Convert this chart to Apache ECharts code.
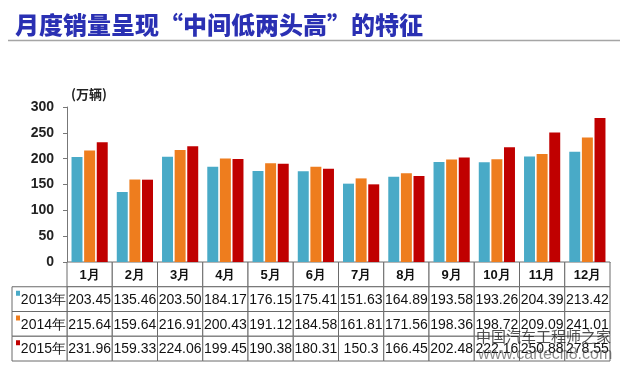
<!DOCTYPE html>
<html>
<head>
<meta charset="utf-8">
<script src="https://cdn.jsdelivr.net/npm/echarts@6/dist/echarts.min.js"></script>
<style>
html,body{margin:0;padding:0;background:#fff;}
#chart{width:620px;height:372px;}
</style>
</head>
<body>
<div id="chart"></div>
<script>
// ---- data ----
var months = ['1月','2月','3月','4月','5月','6月','7月','8月','9月','10月','11月','12月'];
var seriesNames = ['2013年','2014年','2015年'];
var sales2013 = [203.45,135.46,203.50,184.17,176.15,175.41,151.63,164.89,193.58,193.26,204.39,213.42];
var sales2014 = [215.64,159.64,216.91,200.43,191.12,184.58,161.81,171.56,198.36,198.72,209.09,241.01];
var sales2015 = [231.96,159.33,224.06,199.45,190.38,180.31,150.3,166.45,202.48,222.16,250.88,278.55];
var tableText2013 = ['203.45','135.46','203.50','184.17','176.15','175.41','151.63','164.89','193.58','193.26','204.39','213.42'];
var tableText2014 = ['215.64','159.64','216.91','200.43','191.12','184.58','161.81','171.56','198.36','198.72','209.09','241.01'];
var tableText2015 = ['231.96','159.33','224.06','199.45','190.38','180.31','150.3','166.45','202.48','222.16','250.88','278.55'];
var yTicks = [0,50,100,150,200,250,300];
var colors = ['#49AAC7','#EE7D1E','#C00000'];

// ---- build table cells ----
var tableRows = [months, tableText2013, tableText2014, tableText2015];
var tableCells = [];
tableRows.forEach(function(row, r){
  row.forEach(function(txt, c){ tableCells.push({value:[c, r], text: txt, header: r === 0}); });
});
var legendCells = seriesNames.map(function(n, i){ return {value:[0, i], text:n, color:colors[i]}; });

var chart = echarts.init(document.getElementById('chart'));

function tableItem(params, api){
  var cell = tableCells[params.dataIndex];
  var c = api.coord([api.value(0), api.value(1)]);
  var s = api.size([1, 1]);
  return {type:'group', children:[
    {type:'rect', shape:{x:c[0]-s[0]/2, y:c[1]-s[1]/2, width:s[0], height:s[1]},
     style:{fill:'#fff', stroke:'#6a6a6a', lineWidth:1}},
    {type:'text', x:c[0], y:c[1]+1,
     style:{text:cell.text, align:'center', verticalAlign:'middle',
            font:(cell.header ? 'bold 13px ' : '14px ') + '"Liberation Sans", Arial, sans-serif', fill:'#111'}}
  ]};
}
function legendItem(params, api){
  var cell = legendCells[params.dataIndex];
  var c = api.coord([api.value(0), api.value(1)]);
  var s = api.size([1, 1]);
  var x0 = c[0]-s[0]/2, y0 = c[1]-s[1]/2;
  return {type:'group', children:[
    {type:'rect', shape:{x:x0, y:y0, width:s[0], height:s[1]},
     style:{fill:'#fff', stroke:'#6a6a6a', lineWidth:1}},
    {type:'rect', shape:{x:x0+4, y:y0+4, width:4, height:5}, style:{fill:cell.color}},
    {type:'text', x:x0+s[0]-1, y:c[1]+1,
     style:{text:cell.text, align:'right', verticalAlign:'middle',
            font:'14px "Liberation Sans", Arial, sans-serif', fill:'#111'}}
  ]};
}

var option = {
  animation:false,
  backgroundColor:'#fff',
  title:{
    text:'月度销量呈现“中间低两头高”的特征',
    left:10, top:8,
    textStyle:{fontFamily:'"Noto Sans CJK SC"', fontWeight:900, fontSize:24, color:'#2A30B3'}
  },
  graphic:[
    {type:'line', shape:{x1:8, y1:40.5, x2:620, y2:40.5}, style:{stroke:'#a5a5a5', lineWidth:1.5}},
    {type:'text', left:476, top:329, z:100,
     style:{text:'中国汽车工程师之家', font:'15px "Noto Sans CJK SC"', fill:'rgba(20,20,20,0.75)'}},
    {type:'text', left:478, top:347, z:100,
     style:{text:'www.cartech8.com', font:'16px "Liberation Sans"', fill:'rgba(60,60,60,0.6)'}}
  ],
  grid:[
    {left:67, right:10, top:107, height:155},
    {left:67, right:10, top:262, height:99},
    {left:12, width:55, top:286.75, height:74.25}
  ],
  xAxis:[
    {gridIndex:0, type:'category', data:months,
     axisLine:{show:true, lineStyle:{color:'#666'}}, axisTick:{show:false}, axisLabel:{show:false}},
    {gridIndex:1, type:'category', data:months, show:false},
    {gridIndex:2, type:'category', data:[''], show:false}
  ],
  yAxis:[
    {gridIndex:0, type:'value', min:yTicks[0], max:yTicks[yTicks.length-1], interval:50,
     name:'(万辆)', nameLocation:'end', nameGap:6,
     nameTextStyle:{align:'left', fontFamily:'"Noto Sans CJK SC"', fontWeight:'bold', fontSize:13, color:'#222', padding:[0,0,0,4]},
     axisLine:{show:true, lineStyle:{color:'#777'}},
     axisTick:{show:true, length:4, lineStyle:{color:'#777'}},
     axisLabel:{margin:13, fontFamily:'"Liberation Sans", Arial', fontWeight:'bold', fontSize:14, color:'#222'},
     splitLine:{show:false}},
    {gridIndex:1, type:'category', data:['h','2013','2014','2015'], inverse:true, show:false},
    {gridIndex:2, type:'category', data:seriesNames, inverse:true, show:false}
  ],
  series:[
    {name:seriesNames[0], type:'bar', data:sales2013, itemStyle:{color:colors[0]}, barCategoryGap:'20%', barGap:'15%'},
    {name:seriesNames[1], type:'bar', data:sales2014, itemStyle:{color:colors[1]}, barCategoryGap:'20%', barGap:'15%'},
    {name:seriesNames[2], type:'bar', data:sales2015, itemStyle:{color:colors[2]}, barCategoryGap:'20%', barGap:'15%'},
    {type:'custom', xAxisIndex:1, yAxisIndex:1, renderItem:tableItem,
     data:tableCells.map(function(c){ return c.value; })},
    {type:'custom', xAxisIndex:2, yAxisIndex:2, renderItem:legendItem,
     data:legendCells.map(function(c){ return c.value; })}
  ]
};
chart.setOption(option);
</script>
</body>
</html>
